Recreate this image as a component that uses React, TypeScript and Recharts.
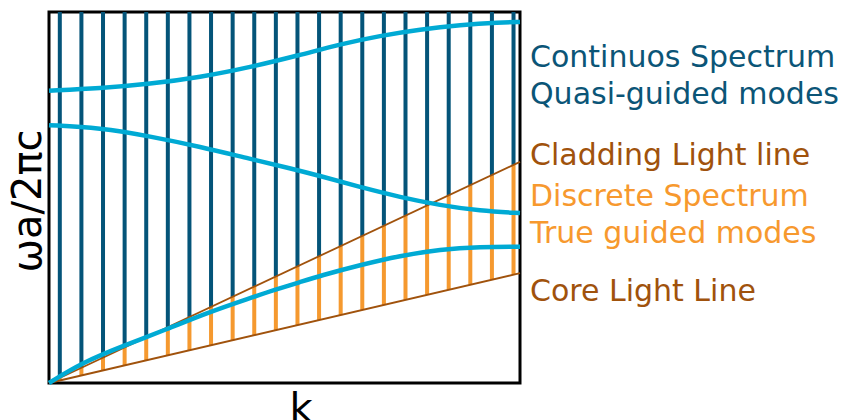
import React from 'react';
import { Bar, ComposedChart, Line, ReferenceArea, XAxis, YAxis } from 'recharts';

// wave-vector positions of the vertical hatch lines
const hatchK = [0.5, 1.5, 2.5, 3.5, 4.5, 5.5, 6.5, 7.5, 8.5, 9.5, 10.5, 11.5, 12.5, 13.5, 14.5, 15.5, 16.5, 17.5, 18.5, 19.5, 20.5, 21.5];
// cladding light line read at each hatch position
const claddingAtHatch = [0.014, 0.041, 0.068, 0.096, 0.123, 0.150, 0.178, 0.205, 0.232, 0.260, 0.287, 0.314, 0.342, 0.369, 0.396, 0.424, 0.451, 0.478, 0.506, 0.533, 0.560, 0.588];
// core light line read at each hatch position
const coreAtHatch = [0.007, 0.020, 0.034, 0.048, 0.061, 0.075, 0.088, 0.102, 0.115, 0.129, 0.143, 0.156, 0.170, 0.183, 0.197, 0.210, 0.224, 0.238, 0.251, 0.265, 0.278, 0.292];

const lightLineK = [0, 21.8];
const claddingLine = [0, 0.596];
const coreLine = [0, 0.296];

// bands (cyan curves)
const band1K = [0, 2.36, 4.68, 6.99, 9.31, 11.62, 13.47, 15.32, 17.18, 19.03, 20.88, 21.8];
const band1 = [0.788, 0.794, 0.806, 0.824, 0.851, 0.884, 0.913, 0.936, 0.953, 0.965, 0.972, 0.973];

const band2K = [0, 2.36, 4.68, 6.99, 9.31, 11.16, 12.55, 14.4, 16.25, 18.1, 19.95, 21.8];
const band2 = [0.695, 0.688, 0.665, 0.637, 0.604, 0.579, 0.558, 0.528, 0.501, 0.479, 0.464, 0.458];

const band3K = [0, 1.53, 3.43, 5.46, 7.31, 9.31, 10.5, 11.62, 12.55, 14.4, 16.25, 18.1, 19.95, 21.8];
const band3 = [0, 0.055, 0.1, 0.145, 0.189, 0.229, 0.252, 0.272, 0.289, 0.318, 0.343, 0.36, 0.367, 0.367];

const labels = [
  { text: 'Continuos Spectrum', y: 67, color: '#0b5577' },
  { text: 'Quasi-guided modes', y: 104, color: '#0b5577' },
  { text: 'Cladding Light line', y: 165, color: '#a0520c' },
  { text: 'Discrete Spectrum', y: 206, color: '#f7992e' },
  { text: 'True guided modes', y: 243, color: '#f7992e' },
  { text: 'Core Light Line', y: 301, color: '#a0520c' },
];

const zip = (ks: number[], vs: number[]) => ks.map((k, i) => ({ k, v: vs[i] }));

const hatchRows = hatchK.map((k, i) => ({
  k,
  core: coreAtHatch[i],
  guided: claddingAtHatch[i] - coreAtHatch[i],
  quasi: 1 - claddingAtHatch[i],
}));

const font = '"DejaVu Sans", sans-serif';

// thin vertical stroke centred on the bar slot
const Hatch = (props: any) => {
  const { x, y, width, height, fill } = props;
  if (!height) return null;
  return <rect x={x + width / 2 - 2} y={y} width={4} height={height} fill={fill} />;
};

const App = () => {
  return (
    <div style={{ position: 'absolute', left: 0, top: 0, width: 843, height: 420 }}>
      <ComposedChart
        width={843}
        height={420}
        data={hatchRows}
        margin={{ top: 12, right: 323, bottom: 37, left: 49 }}
      >
        <XAxis dataKey="k" type="number" domain={[0, 21.8]} hide />
        <YAxis type="number" domain={[0, 1]} hide />
        <Bar dataKey="core" stackId="h" fill="none" isAnimationActive={false} shape={() => null} />
        <Bar dataKey="guided" stackId="h" fill="#f5992f" isAnimationActive={false} shape={Hatch} />
        <Bar dataKey="quasi" stackId="h" fill="#045479" isAnimationActive={false} shape={Hatch} />
        <Line data={zip(lightLineK, claddingLine)} dataKey="v" type="linear" stroke="#a0520c" strokeWidth={1.8} dot={false} isAnimationActive={false} />
        <Line data={zip(lightLineK, coreLine)} dataKey="v" type="linear" stroke="#a0520c" strokeWidth={1.8} dot={false} isAnimationActive={false} />
        <Line data={zip(band1K, band1)} dataKey="v" type="basis" stroke="#00aad4" strokeWidth={4.5} dot={false} isAnimationActive={false} />
        <Line data={zip(band2K, band2)} dataKey="v" type="basis" stroke="#00aad4" strokeWidth={4.5} dot={false} isAnimationActive={false} />
        <Line data={zip(band3K, band3)} dataKey="v" type="basis" stroke="#00aad4" strokeWidth={4.5} dot={false} isAnimationActive={false} />
        <ReferenceArea x1={0} x2={21.8} y1={0} y2={1} fill="none" fillOpacity={0} stroke="#000" strokeWidth={3} ifOverflow="visible" />
      </ComposedChart>
      <svg width={843} height={420} style={{ position: 'absolute', left: 0, top: 0, pointerEvents: 'none' }}>
        {labels.map((l) => (
          <text key={l.text} x={530} y={l.y} fill={l.color} fontSize={30} fontFamily={font}>
            {l.text}
          </text>
        ))}
        <text transform="translate(41,201) rotate(-90)" textAnchor="middle" fontSize={40} fontFamily={font} fill="#000">
          ωa/2πc
        </text>
        <text x={301} y={422} textAnchor="middle" fontSize={40} fontFamily={font} fill="#000">
          k
        </text>
      </svg>
    </div>
  );
};

export default App;
